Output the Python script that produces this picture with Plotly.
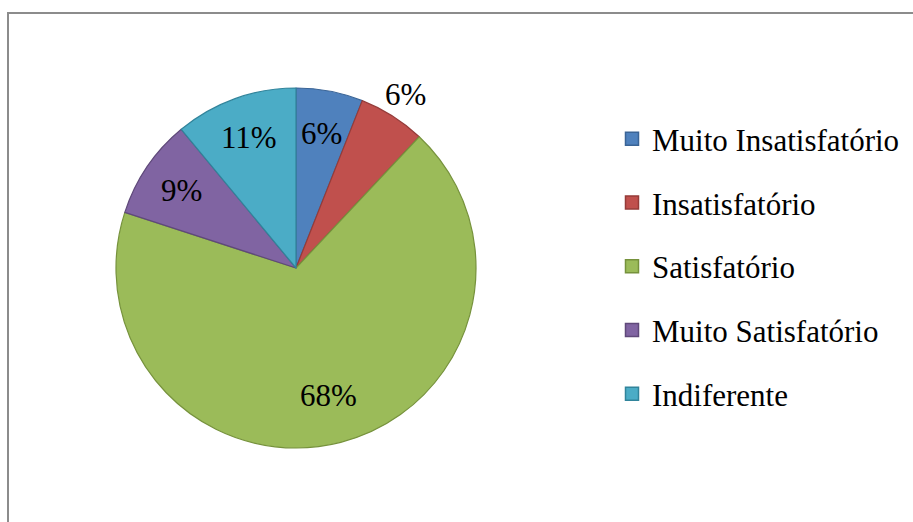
import math
import plotly.graph_objects as go

# Survey satisfaction shares (percent)
categories = ["Muito Insatisfatório", "Insatisfatório", "Satisfatório",
              "Muito Satisfatório", "Indiferente"]
values = [6, 6, 68, 9, 11]
fill_colors = ["#4F81BD", "#C0504D", "#9BBB59", "#8064A2", "#4BACC6"]
edge_colors = ["#3A6496", "#953B39", "#76923C", "#5F497A", "#31849B"]
# label radius as a fraction of the pie radius (red slice label sits outside)
label_radius = [0.76, 1.14, 0.73, 0.77, 0.77]

W, H = 913, 522
CX, CY, R = 296, 268, 180  # pie centre and radius in pixels
FONT = "Liberation Serif"

fig = go.Figure()

fig.add_trace(go.Pie(
    labels=categories,
    values=values,
    sort=False,
    direction="clockwise",
    rotation=0,
    textinfo="none",
    hoverinfo="label+percent",
    showlegend=False,
    marker=dict(colors=fill_colors, line=dict(color=edge_colors, width=1.2)),
    domain=dict(x=[(CX - R) / W, (CX + R) / W],
                y=[1 - (CY + R) / H, 1 - (CY - R) / H]),
))

# Legend entries, one group each so the entries can be spaced apart
for i, (name, fc, ec) in enumerate(zip(categories, fill_colors, edge_colors)):
    fig.add_trace(go.Scatter(
        x=[None], y=[None], mode="markers", name=name,
        legendgroup=f"g{i}", showlegend=True,
        marker=dict(symbol="square", size=13, color=fc,
                    line=dict(color=ec, width=1.5)),
    ))

# Percentage labels placed at each slice's mid-angle
total = sum(values)
cum = 0
annotations = []
for v, rf in zip(values, label_radius):
    mid = (cum + v / 2) / total * 2 * math.pi
    cum += v
    px = CX + rf * R * math.sin(mid)
    py = CY - rf * R * math.cos(mid)
    annotations.append(dict(
        x=px / W, y=1 - py / H, xref="paper", yref="paper",
        text=f"{v}%", showarrow=False,
        font=dict(family=FONT, size=31, color="#000000"),
        xanchor="center", yanchor="middle",
    ))

fig.update_layout(
    width=W, height=H,
    margin=dict(l=0, r=0, t=0, b=0),
    paper_bgcolor="white",
    plot_bgcolor="white",
    xaxis=dict(visible=False),
    yaxis=dict(visible=False),
    font=dict(family=FONT, color="#000000"),
    annotations=annotations,
    legend=dict(
        x=612 / W, xanchor="left",
        y=1 - 112 / H, yanchor="top",
        traceorder="grouped",
        tracegroupgap=20.5,
        font=dict(family=FONT, size=31, color="#000000"),
        bgcolor="rgba(0,0,0,0)",
        borderwidth=0,
        itemclick=False, itemdoubleclick=False,
    ),
    shapes=[dict(
        type="rect", xref="paper", yref="paper",
        x0=8 / W, x1=(W + 4) / W,
        y0=1 - (H + 4) / H, y1=1 - 13 / H,
        line=dict(color="#8C8C8C", width=2),
        fillcolor="rgba(0,0,0,0)", layer="below",
    )],
)

fig.write_html("out.html")
